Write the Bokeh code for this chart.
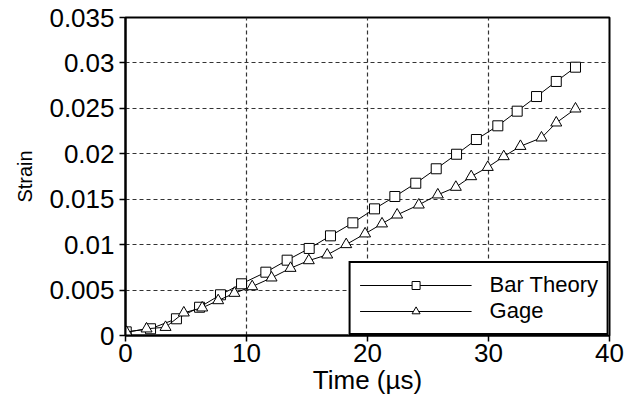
from bokeh.plotting import figure
from bokeh.models import FixedTicker, Legend, LegendItem
from bokeh.embed import file_html
from bokeh.resources import INLINE

# Data
bar_t = [0.06, 2.07, 4.21, 6.12, 7.85, 9.59, 11.6, 13.36, 15.18, 16.94, 18.79,
         20.58, 22.26, 23.99, 25.68, 27.36, 29.0, 30.77, 32.37, 33.97, 35.6, 37.19]
bar_s = [0.0004, 0.00074, 0.00184, 0.00311, 0.00448, 0.00569, 0.00697, 0.00829,
         0.00958, 0.01097, 0.0124, 0.01394, 0.0153, 0.01676, 0.01835, 0.01995,
         0.02157, 0.02308, 0.02469, 0.0263, 0.02796, 0.02953]

gage_t = [0.08, 1.74, 3.31, 4.82, 6.34, 7.66, 9.0, 10.47, 12.07, 13.64, 15.15,
          16.67, 18.24, 19.8, 21.2, 22.45, 24.24, 25.81, 27.3, 28.57, 29.94,
          31.26, 32.64, 34.38, 35.6, 37.19]
gage_s = [0.00036, 0.00074, 0.00091, 0.0025, 0.00305, 0.00385, 0.00466, 0.00539,
          0.00635, 0.00741, 0.00825, 0.00888, 0.01002, 0.0112, 0.0123, 0.01328,
          0.01438, 0.01549, 0.01633, 0.0175, 0.01852, 0.0197, 0.02083, 0.02176,
          0.02341, 0.02495]

x_ticks = [0, 10, 20, 30, 40]
y_ticks = [0, 0.005, 0.01, 0.015, 0.02, 0.025, 0.03, 0.035]
y_tick_labels = ["0", "0.005", "0.01", "0.015", "0.02", "0.025", "0.03", "0.035"]

FONT = "Liberation Sans"

p = figure(width=631, height=405, output_backend="svg", toolbar_location=None,
           x_range=(0, 40), y_range=(0, 0.035),
           min_border_left=125, min_border_right=22, min_border_top=17,
           min_border_bottom=70)

p.background_fill_color = "white"
p.border_fill_color = "white"
p.outline_line_color = "black"
p.outline_line_width = 2

for ax in (p.xaxis[0], p.yaxis[0]):
    ax.axis_line_color = "black"
    ax.axis_line_width = 2
    ax.major_tick_line_color = "black"
    ax.major_tick_line_width = 1.5
    ax.major_tick_in = 0
    ax.major_tick_out = 6
    ax.minor_tick_line_color = None
    ax.major_label_text_font = FONT
    ax.major_label_text_font_size = "26px"
    ax.major_label_text_color = "black"
    ax.axis_label_text_font = FONT
    ax.axis_label_text_font_style = "normal"
    ax.axis_label_text_color = "black"

p.xaxis.ticker = FixedTicker(ticks=x_ticks)
p.yaxis.ticker = FixedTicker(ticks=y_ticks)
p.yaxis.major_label_overrides = {v: s for v, s in zip(y_ticks, y_tick_labels)}
p.xaxis.axis_label = "Time (\u00b5s)"
p.xaxis.axis_label_text_font_size = "26px"
p.xaxis.major_label_standoff = 2
p.xaxis.axis_label_standoff = 0
p.yaxis.axis_label = "Strain"
p.yaxis.axis_label_text_font_size = "20px"
p.yaxis.major_label_standoff = 5
p.yaxis.axis_label_standoff = 10

p.xgrid.grid_line_color = "#333333"
p.ygrid.grid_line_color = "#333333"
p.xgrid.grid_line_dash = "4 3"
p.ygrid.grid_line_dash = "4 3"
p.xgrid.grid_line_width = 1.2
p.ygrid.grid_line_width = 1.2

l1 = p.line(bar_t, bar_s, line_color="black", line_width=1)
m1 = p.scatter(bar_t, bar_s, marker="square", size=10, fill_color="white",
               line_color="black", line_width=1)
l2 = p.line(gage_t, gage_s, line_color="black", line_width=1)
m2 = p.scatter(gage_t, gage_s, marker="triangle", size=11, fill_color="white",
               line_color="black", line_width=1)

legend = Legend(items=[LegendItem(label="Bar Theory", renderers=[l1, m1]),
                       LegendItem(label="Gage", renderers=[l2, m2])],
                location="bottom_right")
legend.margin = 0
legend.padding = 9
legend.spacing = 0
legend.glyph_width = 112
legend.glyph_height = 20
legend.label_height = 20
legend.label_standoff = 18
legend.label_text_font = FONT
legend.label_text_font_size = "22px"
legend.label_text_color = "black"
legend.border_line_color = "black"
legend.border_line_alpha = 1
legend.border_line_width = 2
legend.background_fill_alpha = 1
p.add_layout(legend)

open("out.html", "w").write(file_html(p, INLINE))
